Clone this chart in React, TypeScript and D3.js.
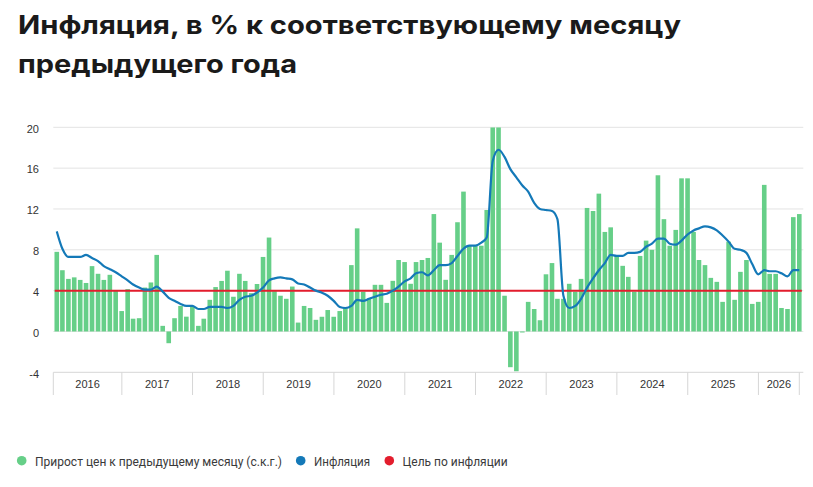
import React, { useEffect, useRef } from 'react';
import * as d3 from 'd3';

// first month of the series (Jan 2016), bars and line are monthly
const startMonth = new Date(2016, 0, 1);

// month-on-month price growth, seasonally adjusted annualized (%), Jan 2016 .. Jul 2026
// (Mar/Apr 2022 go off the top of the chart and are clipped at 20)
const monthlySaar = [
  7.8, 6.0, 5.15, 5.3, 5.05, 4.75, 6.4, 5.65, 5.05, 5.55, 4.0, 2.0,
  4.15, 1.25, 1.3, 4.3, 4.8, 7.5, 0.55, -1.15, 1.3, 2.5, 1.45, 2.45,
  0.55, 1.25, 3.1, 4.35, 4.95, 5.95, 3.4, 5.65, 4.95, 3.75, 4.65, 7.3,
  9.2, 3.95, 3.5, 3.2, 4.4, 0.87, 2.5, 2.3, 1.14, 1.44, 2.1, 1.44,
  2.0, 2.3, 6.5, 10.1, 3.9, 3.2, 4.57, 4.57, 2.8, 4.96, 7.0, 6.8,
  4.67, 6.8, 7.0, 7.2, 11.5, 8.7, 5.06, 7.5, 10.7, 13.7, 8.4, 8.4,
  8.4, 11.9, 20, 20, 3.5, -3.5, -3.9, -0.1, 2.9, 2.2, 1.1, 5.6,
  6.7, 3.2, 3.2, 4.67, 3.9, 5.15, 12.1, 11.8, 13.5, 9.75, 10.2, 7.4,
  6.43, 5.35, 3.9, 7.4, 8.9, 8.0, 15.3, 11.0, 8.4, 9.95, 15.0, 15.0,
  9.75, 7.0, 6.5, 5.25, 4.86, 2.9, 8.8, 3.1, 5.84, 7.0, 2.7, 2.9,
  14.36, 5.64, 5.64, 2.3, 2.2, 11.2, 11.5
];

// inflation, % to the same month of the previous year
const inflationYoY = [
  9.8, 8.1, 7.3, 7.3, 7.3, 7.5, 7.2, 6.9, 6.4, 6.1, 5.8, 5.4,
  5.0, 4.6, 4.3, 4.1, 4.1, 4.4, 3.9, 3.3, 3.0, 2.7, 2.5, 2.5,
  2.2, 2.2, 2.4, 2.4, 2.4, 2.3, 2.5, 3.1, 3.4, 3.5, 3.8, 4.3,
  5.0, 5.2, 5.3, 5.2, 5.1, 4.7, 4.6, 4.3, 4.0, 3.8, 3.5, 3.0,
  2.4, 2.3, 2.5, 3.1, 3.0, 3.2, 3.4, 3.6, 3.7, 4.0, 4.4, 4.9,
  5.2, 5.7, 5.8, 5.5, 6.0, 6.5, 6.5, 6.7, 7.4, 8.1, 8.4, 8.4,
  8.7, 9.2, 16.7, 17.8, 17.1, 15.9, 15.1, 14.3, 13.7, 12.6, 12.0, 11.9,
  11.8, 11.0, 3.5, 2.3, 2.5, 3.2, 4.3, 5.2, 6.0, 6.7, 7.5, 7.4,
  7.4, 7.7, 7.7, 7.8, 8.3, 8.6, 9.1, 9.1, 8.6, 8.5, 8.9, 9.5,
  9.9, 10.1, 10.3, 10.2, 9.9, 9.4, 8.8, 8.1, 8.0, 7.7, 6.6, 5.6,
  6.0, 5.9, 5.9, 5.7, 5.4, 6.0, 6.0
];

const inflationTarget = 4;

const yTicks = [-4, 0, 4, 8, 12, 16, 20];
const yearLabels = ['2016', '2017', '2018', '2019', '2020', '2021', '2022', '2023', '2024', '2025', '2026'];

const titleLines = ['Инфляция, в % к соответствующему месяцу', 'предыдущего года'];

const legendLabels = ['Прирост цен к предыдущему месяцу (с.к.г.)', 'Инфляция', 'Цель по инфляции'];
const legendColors = ['#66cf88', '#1479b8', '#e31d2d'];

const InflationChart = () => {
  const chartRef = useRef(null);

  useEffect(() => {
    if (!chartRef.current) return;
    document.body.style.margin = '0';

    d3.select(chartRef.current).selectAll('*').remove();

    const width = 813;
    const height = 487;

    const svg = d3.select(chartRef.current)
      .append('svg')
      .attr('width', width)
      .attr('height', height)
      .style('display', 'block')
      .style('background', 'white')
      .style('font-family', "'Liberation Sans', Arial, sans-serif");

    // dates: each bar/point sits at the end of its month
    const dates = monthlySaar.map((_, i) => d3.timeDay.offset(d3.timeMonth.offset(startMonth, i + 1), -1));
    const firstDate = dates[0];
    const lastDate = dates[dates.length - 1];

    const x = d3.scaleTime()
      .domain([d3.timeDay.offset(firstDate, -18), lastDate])
      .range([53.3, 799.3]);

    const y = d3.scaleLinear()
      .domain([-4, 20])
      .range([372.3, 127.3]);

    const plotLeft = 53.3;
    const plotRight = 803.3;

    // horizontal grid
    svg.append('g')
      .selectAll('line')
      .data(yTicks.filter(t => t !== -4))
      .enter()
      .append('line')
      .attr('x1', plotLeft)
      .attr('x2', plotRight)
      .attr('y1', d => y(d))
      .attr('y2', d => y(d))
      .style('stroke', '#e3e3e3')
      .style('stroke-width', 1);

    // y labels
    svg.append('g')
      .selectAll('text')
      .data(yTicks)
      .enter()
      .append('text')
      .attr('x', 39)
      .attr('y', d => y(d) + 1.5)
      .attr('dy', '0.35em')
      .attr('text-anchor', 'end')
      .style('font-size', '11px')
      .style('fill', '#333')
      .text(d => d);

    // bars
    const clipId = 'plot-clip';
    svg.append('clipPath')
      .attr('id', clipId)
      .append('rect')
      .attr('x', 0)
      .attr('y', y(20))
      .attr('width', width)
      .attr('height', y(-4) - y(20));

    const barWidth = 4.6;
    svg.append('g')
      .attr('clip-path', `url(#${clipId})`)
      .selectAll('rect')
      .data(monthlySaar)
      .enter()
      .append('rect')
      .attr('x', (d, i) => x(dates[i]) - barWidth / 2)
      .attr('y', d => y(Math.max(0, d)))
      .attr('width', barWidth)
      .attr('height', d => Math.max(0.8, Math.abs(y(d) - y(0))))
      .style('fill', legendColors[0]);

    // target line
    svg.append('line')
      .attr('x1', x(firstDate) - 2)
      .attr('x2', x(lastDate) + 2.5)
      .attr('y1', y(inflationTarget))
      .attr('y2', y(inflationTarget))
      .style('stroke', legendColors[2])
      .style('stroke-width', 2);

    // inflation line
    const line = d3.line()
      .x((d, i) => x(dates[i]))
      .y(d => y(d))
      .curve(d3.curveMonotoneX);

    svg.append('path')
      .datum(inflationYoY)
      .attr('d', line)
      .style('fill', 'none')
      .style('stroke', legendColors[1])
      .style('stroke-width', 2.2)
      .style('stroke-linejoin', 'round');

    // x axis: baseline, year separators and labels
    svg.append('line')
      .attr('x1', plotLeft)
      .attr('x2', plotRight)
      .attr('y1', y(-4))
      .attr('y2', y(-4))
      .style('stroke', '#d6d6d6')
      .style('stroke-width', 1);

    const yearEdges = [x.domain()[0], ...yearLabels.slice(1).map(l => new Date(+l, 0, 1)), x.domain()[1]];

    svg.append('g')
      .selectAll('line')
      .data(yearEdges)
      .enter()
      .append('line')
      .attr('x1', d => x(d))
      .attr('x2', d => x(d))
      .attr('y1', y(-4))
      .attr('y2', 395)
      .style('stroke', '#d6d6d6')
      .style('stroke-width', 1);

    svg.append('g')
      .selectAll('text')
      .data(yearLabels)
      .enter()
      .append('text')
      .attr('x', (d, i) => (x(yearEdges[i]) + x(yearEdges[i + 1])) / 2)
      .attr('y', 387.5)
      .attr('text-anchor', 'middle')
      .style('font-size', '11px')
      .style('fill', '#333')
      .text(d => d);

    // title
    const titleWidths = [663, 279];
    svg.append('g')
      .selectAll('text')
      .data(titleLines)
      .enter()
      .append('text')
      .attr('x', 18)
      .attr('y', (d, i) => 33.5 + i * 39)
      .attr('textLength', (d, i) => titleWidths[i])
      .attr('lengthAdjust', 'spacingAndGlyphs')
      .style('font-family', "Inter, 'Noto Sans', sans-serif")
      .style('font-weight', 700)
      .style('font-size', '25px')
      .style('fill', '#1a1a1a')
      .text(d => d);

    // legend
    const legendX = [21.7, 300.7, 389.3];
    const legendWidths = [247, 56, 105];
    const legend = svg.append('g');

    legend.selectAll('circle')
      .data(legendLabels)
      .enter()
      .append('circle')
      .attr('cx', (d, i) => legendX[i])
      .attr('cy', 460.7)
      .attr('r', 4.8)
      .style('fill', (d, i) => legendColors[i]);

    legend.selectAll('text')
      .data(legendLabels)
      .enter()
      .append('text')
      .attr('x', (d, i) => legendX[i] + 13.3)
      .attr('y', 465.5)
      .attr('textLength', (d, i) => legendWidths[i])
      .attr('lengthAdjust', 'spacingAndGlyphs')
      .style('font-family', 'Roboto, sans-serif')
      .style('font-size', '13px')
      .style('fill', '#3a3a3a')
      .text(d => d);
  }, []);

  return <div ref={chartRef} style={{ width: 813, height: 487 }} />;
};

export default function App() {
  return <InflationChart />;
}
